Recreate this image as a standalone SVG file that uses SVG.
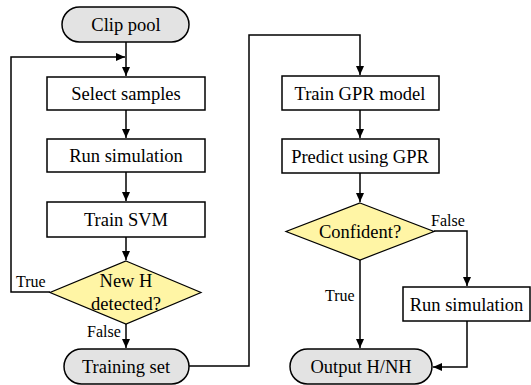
<svg xmlns="http://www.w3.org/2000/svg" width="531" height="385" viewBox="0 0 531 385">
<defs>
<marker id="ah" markerWidth="10" markerHeight="10" refX="9" refY="5" orient="auto" markerUnits="userSpaceOnUse">
<path d="M0,1 L9,5 L0,9 Z" fill="#000"/>
</marker>
<style>
.box{fill:#fff;stroke:#000;stroke-width:1.5}
.term{fill:#e3e3e3;stroke:#000;stroke-width:1.5}
.dec{fill:#fff5a5;stroke:#000;stroke-width:1.2}
.t{font-family:"Liberation Serif","Times New Roman",serif;font-size:18.5px;text-anchor:middle;fill:#000}
.lb{font-family:"Liberation Serif","Times New Roman",serif;font-size:16px;fill:#000}
.c{fill:none;stroke:#000;stroke-width:1.5}
</style>
</defs>
<g id="connectors">
<path class="c" d="M126,42 V76" marker-end="url(#ah)"/>
<path class="c" d="M50,292 H11 V57 H125" marker-end="url(#ah)"/>
<path class="c" d="M126,110 V138" marker-end="url(#ah)"/>
<path class="c" d="M126,172 V201" marker-end="url(#ah)"/>
<path class="c" d="M126,237 V260" marker-end="url(#ah)"/>
<path class="c" d="M126,324 V348" marker-end="url(#ah)"/>
<path class="c" d="M189,366 H249 V35 H360 V75" marker-end="url(#ah)"/>
<path class="c" d="M360,110 V138" marker-end="url(#ah)"/>
<path class="c" d="M360,173 V202" marker-end="url(#ah)"/>
<path class="c" d="M434,231 H467 V286" marker-end="url(#ah)"/>
<path class="c" d="M360,260 V348" marker-end="url(#ah)"/>
<path class="c" d="M467,321 V367 H433" marker-end="url(#ah)"/>
<text class="lb" x="16" y="287">True</text>
<text class="lb" x="87" y="337">False</text>
<text class="lb" x="431" y="226">False</text>
<text class="lb" x="325" y="301">True</text>
</g>
<g id="clip-pool">
<rect class="term" x="62" y="7" width="127" height="35" rx="17.5"/>
<text class="t" x="126" y="31">Clip pool</text>
</g>
<g id="select-samples">
<rect class="box" x="47" y="77" width="158" height="33"/>
<text class="t" x="126" y="100">Select samples</text>
</g>
<g id="run-simulation-1">
<rect class="box" x="47" y="139" width="158" height="33"/>
<text class="t" x="126" y="162">Run simulation</text>
</g>
<g id="train-svm">
<rect class="box" x="47" y="202" width="158" height="35"/>
<text class="t" x="126" y="226">Train SVM</text>
</g>
<g id="new-h">
<polygon class="dec" points="126,261 201,292.5 126,324 50,292.5"/>
<text class="t" x="126" y="287">New H</text>
<text class="t" x="126" y="310">detected?</text>
</g>
<g id="training-set">
<rect class="term" x="64" y="349" width="125" height="35" rx="17.5"/>
<text class="t" x="126" y="373">Training set</text>
</g>
<g id="train-gpr">
<rect class="box" x="282" y="76" width="157" height="34"/>
<text class="t" x="360" y="100">Train GPR model</text>
</g>
<g id="predict-gpr">
<rect class="box" x="282" y="139" width="157" height="34"/>
<text class="t" x="360" y="163">Predict using GPR</text>
</g>
<g id="confident">
<polygon class="dec" points="360,203 434,231.5 360,260 286,231.5"/>
<text class="t" x="360" y="238">Confident?</text>
</g>
<g id="run-simulation-2">
<rect class="box" x="403" y="287" width="127" height="34"/>
<text class="t" x="466.5" y="311">Run simulation</text>
</g>
<g id="output">
<rect class="term" x="290" y="349" width="142" height="35" rx="17.5"/>
<text class="t" x="361" y="373">Output H/NH</text>
</g>
</svg>
